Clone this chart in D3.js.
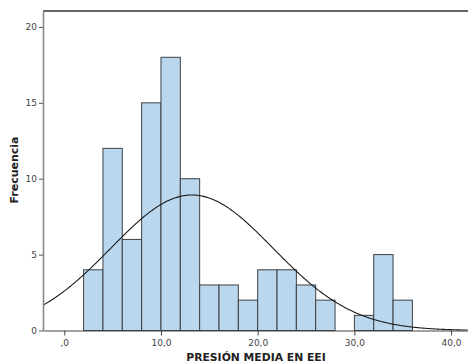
<!DOCTYPE html>
<html><head><meta charset="utf-8">
<script src="https://cdn.jsdelivr.net/npm/d3@7"></script>
<style>body{margin:0;background:#fff}svg{display:block}</style>
</head><body>
<svg id="c" width="468" height="364"></svg>
<script>
const binStarts = [2,4,6,8,10,12,14,16,18,20,22,24,26,28,30,32,34];
const binCounts = [4,12,6,15,18,10,3,3,2,4,4,3,2,0,1,5,2];
const binWidth = 2;
const xTicks = [0,10,20,30,40];
const xTickLabels = [",0","10,0","20,0","30,0","40,0"];
const yTicks = [0,5,10,15,20];
const fitMean = 13.2;
const fitSD = 8.4;
const xTitle = "PRESIÓN MEDIA EN EEI";
const yTitle = "Frecuencia";

const svg = d3.select("#c");
const L = 43, T = 11, R = 468, B = 330.5;
const x = d3.scaleLinear().domain([-2.2, 41.75]).range([L, R]);
const y = d3.scaleLinear().domain([0, 21.05]).range([B, T]);
const N = d3.sum(binCounts);

// bars
svg.append("g").selectAll("rect").data(binStarts).join("rect")
  .attr("x", (d) => x(d))
  .attr("y", (d,i) => y(binCounts[i]))
  .attr("width", x(binWidth) - x(0))
  .attr("height", (d,i) => y(0) - y(binCounts[i]))
  .attr("fill", "#bbd7ee")
  .attr("stroke", "#3c4044")
  .attr("stroke-width", 1)
  .filter((d,i)=>binCounts[i]===0).remove();

// normal curve
const pts = d3.range(-2.2, 41.76, 0.1).map(v => [v, N*binWidth/(fitSD*Math.sqrt(2*Math.PI))*Math.exp(-0.5*((v-fitMean)/fitSD)**2)]);
svg.append("path").datum(pts)
  .attr("d", d3.line().x(d=>x(d[0])).y(d=>y(d[1])).curve(d3.curveBasis))
  .attr("fill", "none").attr("stroke", "#1a1a1a").attr("stroke-width", 1.1);

// top border
svg.append("line").attr("x1", L).attr("x2", R).attr("y1", T).attr("y2", T)
  .attr("stroke", "#333").attr("stroke-width", 1.3);

// axes
const xAxis = d3.axisBottom(x).tickValues(xTicks).tickFormat((d,i)=>xTickLabels[i]).tickSize(5).tickSizeOuter(0);
const gx = svg.append("g").attr("transform", `translate(0,${B})`).call(xAxis);
gx.select(".domain").attr("stroke", "#444").attr("stroke-width", 1.2);
gx.selectAll(".tick line").attr("stroke", "#444");
gx.selectAll("text").attr("font-family", "DejaVu Sans").attr("font-size", 9).attr("fill", "#444").attr("dy", "0.8em");

const yAxis = d3.axisLeft(y).tickValues(yTicks).tickSize(4).tickSizeOuter(0);
const gy = svg.append("g").attr("transform", `translate(${L},0)`).call(yAxis);
gy.select(".domain").attr("stroke", "#888").attr("stroke-width", 1.6);
gy.selectAll(".tick line").attr("stroke", "#555");
gy.selectAll("text").attr("font-family", "DejaVu Sans").attr("font-size", 9).attr("fill", "#444").attr("dx", "0.1em");

// titles
svg.append("text").attr("x", 256).attr("y", 361).attr("text-anchor", "middle")
  .attr("font-family", "DejaVu Sans").attr("font-weight", "bold").attr("font-size", 10.8).attr("fill", "#222")
  .text(xTitle);
svg.append("text").attr("transform", "translate(18,170) rotate(-90)").attr("text-anchor", "middle")
  .attr("font-family", "DejaVu Sans").attr("font-weight", "bold").attr("font-size", 11).attr("fill", "#222")
  .text(yTitle);
</script>
</body></html>
